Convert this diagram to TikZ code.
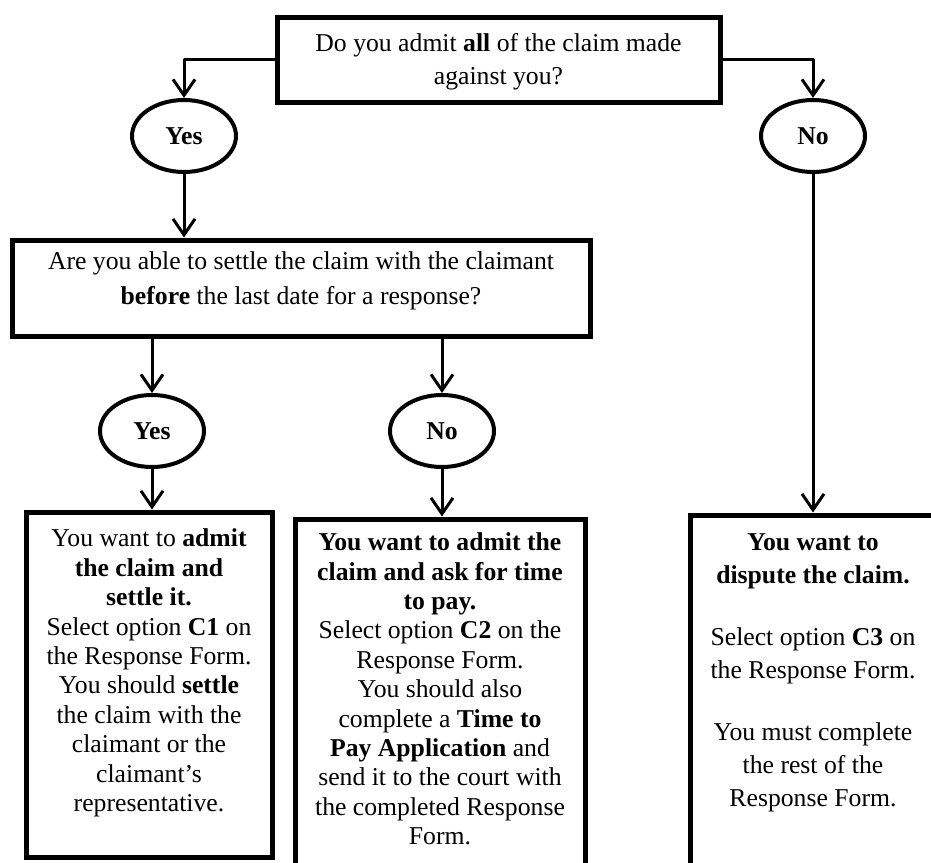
\documentclass[tikz,border=0pt]{standalone}
\usepackage{fontspec}
\setmainfont{Liberation Serif}
\usetikzlibrary{arrows.meta,shapes.geometric}
\newcommand\bodyfont{\fontsize{25.7}{29.4}\selectfont}
\begin{document}
\begin{tikzpicture}[x=1pt,y=-1pt,
  font=\bodyfont,
  box/.style={draw, line width=5pt, rectangle, inner sep=0pt},
  oval/.style={draw, ellipse, line width=4pt, minimum width=104pt, minimum height=72pt, inner sep=0pt, font=\bodyfont\bfseries},
  txt/.style={align=center, inner sep=0pt},
  conn/.style={line width=3pt, -{Straight Barb[length=16pt,width=22pt]}, line join=round}
]
\useasboundingbox (0,0) rectangle (931,862);
\clip (0,0) rectangle (931,862);

% question 1
\node[box, minimum width=443pt, minimum height=85pt] (q1) at (498.5,59.5) {};
\node[txt, font=\fontsize{25.7}{33}\selectfont] (q1t) at (498.5,61.5) {Do you admit \textbf{all} of the claim made\\against you?};

\node[oval] (yes1) at (184,136) {Yes};
\node[oval] (no1) at (813,136) {No};

% question 2
\node[box, minimum width=578pt, minimum height=96pt] (q2) at (301,288) {};
\node[txt, font=\fontsize{25.7}{35}\selectfont] (q2t) at (301,281) {Are you able to settle the claim with the claimant\\\textbf{before} the last date for a response?};

\node[oval] (yes2) at (152,431) {Yes};
\node[oval] (no2) at (442,431) {No};

% outcome boxes
\node[box, minimum width=246pt, minimum height=345pt] (A) at (149,684.5) {};
\node[txt] (At) at (149,673) {You want to \textbf{admit}\\\textbf{the claim and}\\\textbf{settle it.}\\Select option \textbf{C1} on\\the Response Form.\\You should \textbf{settle}\\the claim with the\\claimant or the\\claimant’s\\representative.};

\node[box, minimum width=290pt, minimum height=381pt] (B) at (440,709.5) {};
\node[txt] (Bt) at (440,689) {\textbf{You want to admit the}\\\textbf{claim and ask for time}\\\textbf{to pay.}\\Select option \textbf{C2} on the\\Response Form.\\You should also\\complete a \textbf{Time to}\\\textbf{Pay Application} and\\send it to the court with\\the completed Response\\Form.};

\node[box, minimum width=246pt, minimum height=385pt] (C) at (813,707.5) {};
\node[txt, font=\fontsize{25.7}{33}\selectfont] (Ct) at (813,672.5) {\textbf{You want to}\\\textbf{dispute the claim.}\\[29pt]Select option \textbf{C3} on\\the Response Form.\\[29pt]You must complete\\the rest of the\\Response Form.};

% connectors
\draw[conn] (q1.west) -| (yes1.north);
\draw[conn] (q1.east) -| (no1.north);
\draw[conn] (yes1.south) -- (yes1.south |- q2.north);
\draw[conn] (yes2.north |- q2.south) -- (yes2.north);
\draw[conn] (no2.north |- q2.south) -- (no2.north);
\draw[conn] (yes2.south) -- (yes2.south |- A.north);
\draw[conn] (no2.south) -- (no2.south |- B.north);
\draw[conn] (no1.south) -- (no1.south |- C.north);
\end{tikzpicture}
\end{document}
